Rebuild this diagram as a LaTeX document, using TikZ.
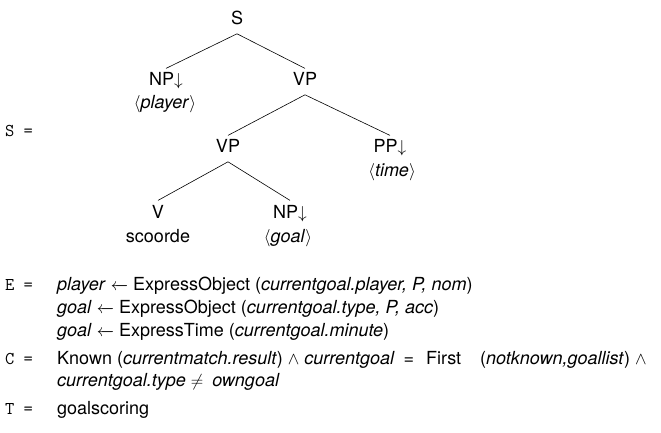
\documentclass[tikz,border=0pt]{standalone}
\usepackage{amsmath,amssymb}
\usepackage{fontspec}
\setmainfont{TeX Gyre Heros}
\usetikzlibrary{calc}

\newcommand{\exprarrow}{\ensuremath{\mathrel{\leftarrow\mkern-14mu\relbar}}}

\tikzset{
  every node/.style={font=\fontsize{18}{22}\selectfont},
  cat/.style={anchor=base,inner sep=2pt},
  lex/.style={anchor=base,inner sep=2pt},
  lbl/.style={anchor=base west,inner sep=0pt,font=\fontsize{18}{22}\selectfont\ttfamily},
  eqline/.style={anchor=base west,inner sep=0pt},
  branch/.style={line width=0.6pt}
}

\begin{document}
\begin{tikzpicture}[x=1pt,y=-1pt]
\useasboundingbox (0,0) rectangle (661,433);

% Tree
\node[lbl] (sname) at (5,137) {S\ =};
\node[cat] (s) at (237,25) {S\strut};
\node[cat] (np1) at (166,86) {NP$\downarrow$\strut};
\node[lex] (player) at (165,109) {$\langle$\textit{player}$\rangle$};
\node[cat] (vp1) at (305,86) {VP\strut};
\node[cat] (vp2) at (228,153) {VP\strut};
\node[cat] (pp) at (390,153) {PP$\downarrow$\strut};
\node[lex] (time) at (392,176) {$\langle$\textit{time}$\rangle$};
\node[cat] (v) at (158,218) {V\strut};
\node[lex] (scoorde) at (158,242) {scoorde};
\node[cat] (np2) at (290,218) {NP$\downarrow$\strut};
\node[lex] (goal) at (288,242) {$\langle$\textit{goal}$\rangle$};

\draw[branch] (s.south) -- (np1.north);
\draw[branch] (s.south) -- (vp1.north);
\draw[branch] (vp1.south) -- (vp2.north);
\draw[branch] (vp1.south) -- (pp.north);
\draw[branch] (vp2.south) -- (v.north);
\draw[branch] (vp2.south) -- (np2.north);

% E, C and T
\node[lbl] (ename) at (5,290) {E\ =};
\node[eqline] (e1) at (57,290) {\textit{player} \exprarrow{} ExpressObject (\textit{currentgoal.player, P, nom})};
\node[eqline] (e2) at (57,313) {\textit{goal} \exprarrow{} ExpressObject (\textit{currentgoal.type, P, acc})};
\node[eqline] (e3) at (57,336) {\textit{goal} \exprarrow{} ExpressTime (\textit{currentgoal.minute})};
\node[lbl] (cname) at (5,364) {C\ =};
\node[eqline] (c1) at (57,364) {Known (\textit{currentmatch.result}) $\wedge$ \textit{currentgoal}\hspace{9pt}=\hspace{12pt}First\hspace{19pt}(\textit{notknown,goallist}) $\wedge$};
\node[eqline] (c2) at (57,386) {\textit{currentgoal.type} $\neq$\hspace{9pt}\textit{owngoal}};
\node[lbl] (tname) at (5,414) {T\ =};
\node[eqline] (t1) at (57,414) {goalscoring};
\end{tikzpicture}
\end{document}
